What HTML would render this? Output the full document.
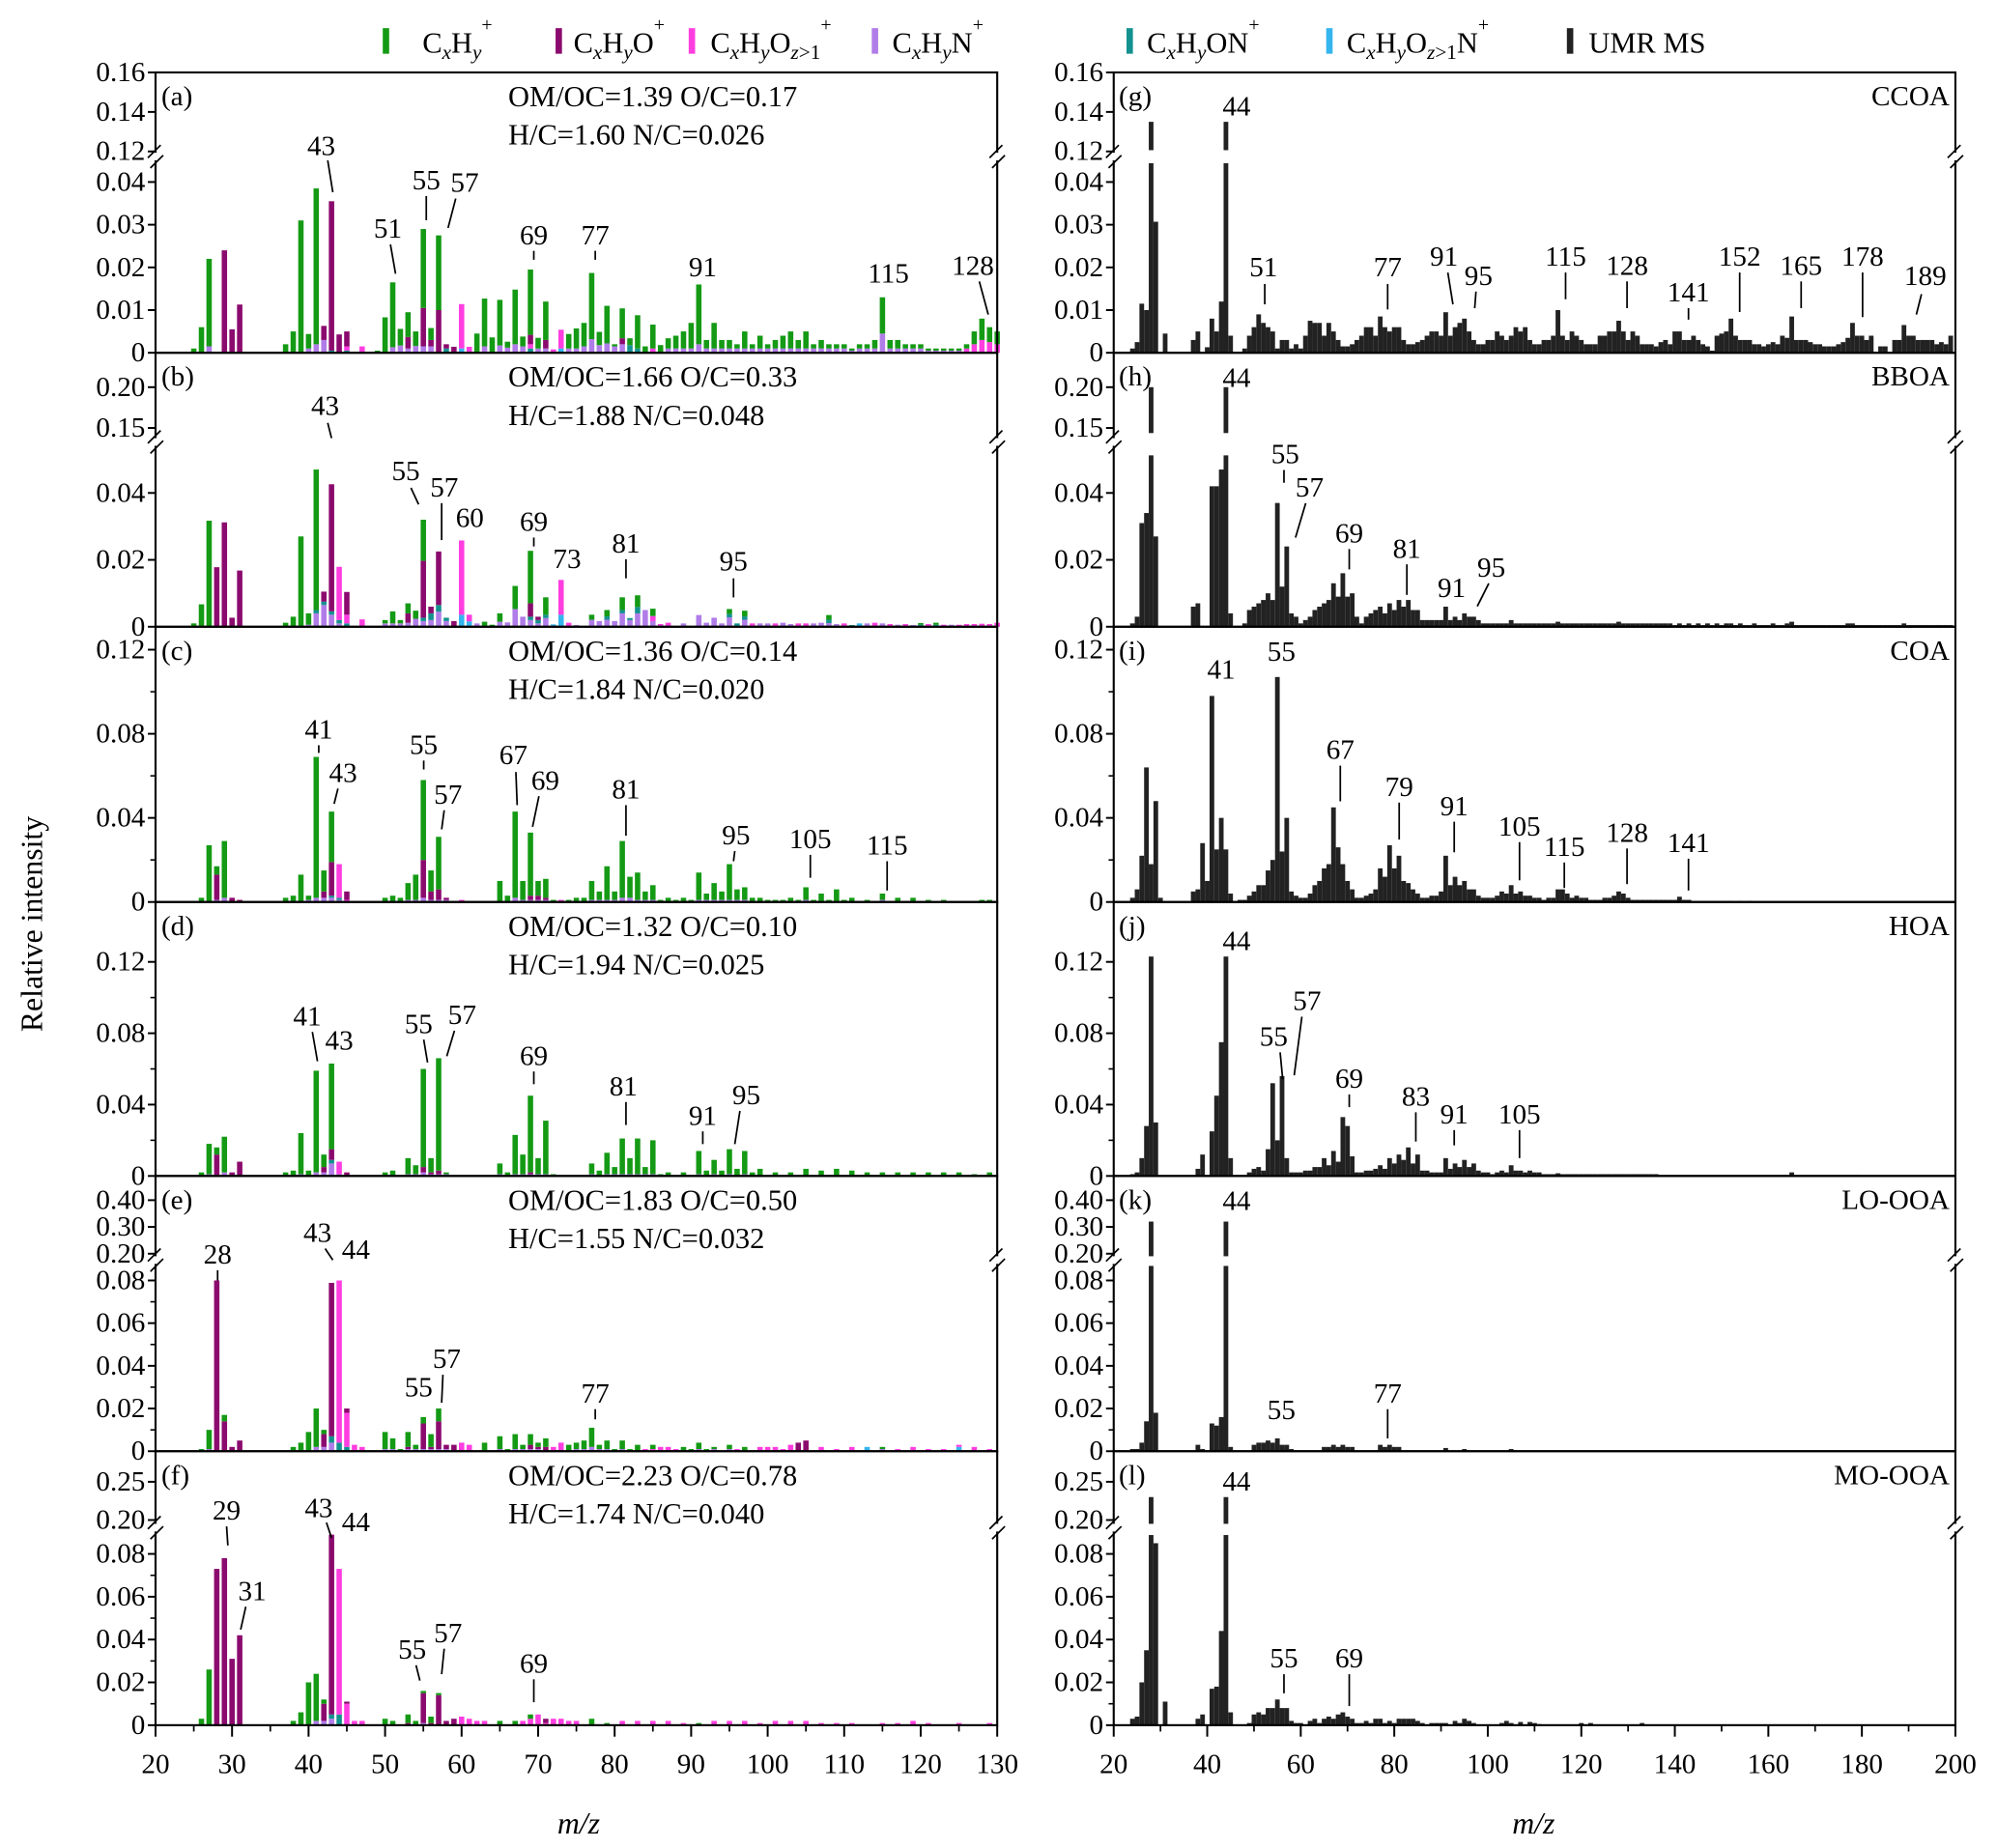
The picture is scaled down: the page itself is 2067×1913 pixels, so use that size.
<!DOCTYPE html>
<html><head><meta charset="utf-8"><title>Mass spectra</title>
<style>
html,body{margin:0;padding:0;background:#fff;}
svg{display:block;font-family:"Liberation Serif","DejaVu Serif",serif;}
</style></head>
<body>
<svg id="chart" xmlns="http://www.w3.org/2000/svg" width="2067" height="1913" viewBox="0 0 1560 1444" preserveAspectRatio="none">
<g id="legend" font-size="23">
  <g><rect x="299" y="22" width="5" height="20" fill="#149a14"/><text x="330" y="41">C<tspan font-style="italic" font-size="16" dy="5">x</tspan><tspan dy="-5">H</tspan><tspan font-style="italic" font-size="16" dy="5">y</tspan><tspan font-size="15" dy="-22">+</tspan></text></g>
  <g><rect x="434" y="22" width="5" height="20" fill="#8b0a6e"/><text x="448" y="41">C<tspan font-style="italic" font-size="16" dy="5">x</tspan><tspan dy="-5">H</tspan><tspan font-style="italic" font-size="16" dy="5">y</tspan><tspan dy="-5">O</tspan><tspan font-size="15" dy="-17">+</tspan></text></g>
  <g><rect x="538" y="22" width="5" height="20" fill="#ff3ee0"/><text x="555" y="41">C<tspan font-style="italic" font-size="16" dy="5">x</tspan><tspan dy="-5">H</tspan><tspan font-style="italic" font-size="16" dy="5">y</tspan><tspan dy="-5">O</tspan><tspan font-size="16" dy="5"><tspan font-style="italic">z</tspan>&gt;1</tspan><tspan font-size="15" dy="-22">+</tspan></text></g>
  <g><rect x="681" y="22" width="5" height="20" fill="#b07ce8"/><text x="697" y="41">C<tspan font-style="italic" font-size="16" dy="5">x</tspan><tspan dy="-5">H</tspan><tspan font-style="italic" font-size="16" dy="5">y</tspan><tspan dy="-5">N</tspan><tspan font-size="15" dy="-17">+</tspan></text></g>
  <g><rect x="880" y="22" width="5" height="20" fill="#13928f"/><text x="896" y="41">C<tspan font-style="italic" font-size="16" dy="5">x</tspan><tspan dy="-5">H</tspan><tspan font-style="italic" font-size="16" dy="5">y</tspan><tspan dy="-5">ON</tspan><tspan font-size="15" dy="-17">+</tspan></text></g>
  <g><rect x="1036" y="22" width="5" height="20" fill="#34b5ee"/><text x="1052" y="41">C<tspan font-style="italic" font-size="16" dy="5">x</tspan><tspan dy="-5">H</tspan><tspan font-style="italic" font-size="16" dy="5">y</tspan><tspan dy="-5">O</tspan><tspan font-size="16" dy="5"><tspan font-style="italic">z</tspan>&gt;1</tspan><tspan dy="-5">N</tspan><tspan font-size="15" dy="-17">+</tspan></text></g>
  <g><rect x="1224" y="22" width="5" height="20" fill="#222"/><text x="1241" y="41">UMR MS</text></g>
</g>
<text x="0" y="0" font-size="24" text-anchor="middle" transform="translate(33,722) rotate(-90)">Relative intensity</text>
<g transform="matrix(1,0,0,0.9957,0,-1.15)">
<text x="452" y="1440" font-size="24" font-style="italic" text-anchor="middle">m/z</text>
<text x="1198" y="1440" font-size="24" font-style="italic" text-anchor="middle">m/z</text>
<g id="plots"></g>
<g id="annots" font-size="22" text-anchor="middle"></g>
</g>
</svg>
<script>
// ---------- data (intensities in units of 1e-3) ----------
// left panels: [m/z, CxHy, CxHyO, CxHyOz>1, CxHyN, CxHyON, CxHyOz>1N]
const barsA = [[25,1,0,0,0,0,0],[26,6,0,0,0,0,0],[27,20.5,0,0,1.5,0,0],[29,0,24,0,0,0,0],[30,0,5.5,0,0,0,0],[31,0,11.3,0,0,0,0],[37,2,0,0,0,0,0],[38,5,0,0,0,0,0],[39,31,0,0,0,0,0],[40,3.4,0,0,1,0,0],[41,36.5,0,0,2,0,0],[42,0,3.3,0,3,0,0],[43,0,35,0,0,0.5,0],[44,0,4.3,0,0,0,0],[45,0,3.5,1,0,0.5,0],[47,0,0,1.5,0,0,0],[49,0.5,0,0,0,0,0],[50,8.3,0,0,0,0,0],[51,15.2,0,0,1.3,0,0],[52,3.9,0,0,1.7,0,0],[53,5.8,2.7,0,1,0,0],[54,3.4,0,0,1.6,0,0],[55,18.5,9,0,1.5,0,0],[56,2.8,1.5,0,1.5,0,0],[57,17.5,10,0,0,0,0],[58,0,1,0,0,1,0],[59,0,1.4,0,0,0,0],[60,0,0,10.4,0,0,1],[61,0,0,1.4,0,0,0],[62,4.5,0,0,0,0,0],[63,11.2,0,0,1.5,0,0],[64,3.6,0,0,0,0,0],[65,10.7,0,0,1.7,0,0],[66,1.4,0,0,1.2,0,0],[67,12.8,0,0,2,0,0],[68,2.3,0,0,1.5,0,0],[69,15.3,2.2,1,0,1,0],[70,2.5,0,0,1,0,0],[71,9,2,0,1,0,0],[72,0,0,0.8,0,0,0],[73,0,0,4.4,0,0,1],[74,3.4,0,0,1,0,0],[75,4.7,0,0,1,0,0],[76,5.5,0,0,1.5,0,0],[77,15.5,0,0,3.2,0,0],[78,3.1,0,0,1.8,0,0],[79,8.8,0,0,2.2,0,0],[80,0.5,0,0,1.5,0,0],[81,7,1.4,0,2,0,0],[82,1.6,0,0,0,1.8,0],[83,7.8,0,0,0,1,0],[84,1.5,0,0,0,0,0],[85,5.6,0,1,0,0,0],[86,1.8,0,0,0,0,0],[87,2.4,0,0,1,0,0],[88,3,0,0,1,0,0],[89,4,0,0,1,0,0],[90,6,0,0,1,0,0],[91,14,0,0,2,0,0],[92,2,0,0,1,0,0],[93,6,0,0,1,0,0],[94,2,0,0,1,0,0],[95,2,0,0,1,0,0],[96,1,0,0,1,0,0],[97,4,0,0,1,0,0],[98,1,0,0,1,0,0],[99,3,0,0,1,0,0],[100,1,0,0,1,0,0],[101,2,0,0,1,0,0],[102,3,0,0,1,0,0],[103,4,0,0,1,0,0],[104,2,0,0,1,0,0],[105,4,0,0,1,0,0],[106,1,0,0,1,0,0],[107,2,0,0,1,0,0],[108,1,0,0,1,0,0],[109,1,0,0,1,0,0],[110,1,0,0,1,0,0],[111,0.5,0,0,0.5,0,0],[112,1,0,0,1,0,0],[113,1,0,0,1,0,0],[114,2,0,0,1,0,0],[115,8.5,0,0,4.5,0,0],[116,2,0,0,1,0,0],[117,2,0,0,1,0,0],[118,1,0,0,1,0,0],[119,1,0,0,1,0,0],[120,1,0,0,1,0,0],[121,0.5,0,0,0.5,0,0],[122,0.5,0,0,0.5,0,0],[123,0.5,0,0,0.5,0,0],[124,0.5,0,0,0.5,0,0],[125,0.5,0,0,0.5,0,0],[126,1,0,1,0,0,0],[127,3,0,2,0,0,0],[128,5,0,3,0,0,0],[129,3.5,0,2.5,0,0,0],[130,3,0,2,0,0,0]];
const barsB = [[25,1,0,0,0,0,0],[26,6.7,0,0,0,0,0],[27,31.7,0,0,0,0,0],[28,0,17.8,0,0,0,0],[29,0,31.2,0,0,0,0],[30,0,2.7,0,0,0,0],[31,0,16.8,0,0,0,0],[37,1.2,0,0,0,0,0],[38,3,0,0,0,0,0],[39,27,0,0,0,0,0],[40,3.4,0,0,0.6,0,0],[41,42,0,0,4,1,0],[42,0,3,0,6.5,1,0],[43,0,38,0,3.6,1,0],[44,0,0,15.9,1,1,0],[45,0,6.8,2.6,0,1,0],[47,0,0,2.2,0,0,0],[50,1,0,0,1,0,0],[51,3.6,0,0,1,0,0],[52,1,0,0,1,0,0],[53,3,2.8,0,1.2,0,0],[54,2.4,0,0,2.4,0,0],[55,12.3,17,0,1.7,1,0],[56,0,2,0,2,2,0],[57,0,16,0,4.5,2,0],[58,0,0,0,1.7,1,0],[59,0,1.7,0,0,0,0],[60,0,0,22.2,0,0,3.6],[61,0,0,2,0,0,1.6],[62,0,0,0,1,0,0],[63,1.5,0,0,0,0,0],[64,0.6,0,0,0,0,0],[65,2.5,0,0,1.5,0,0],[66,0,0,0,1.3,0,0],[67,6.9,0,0,5.3,0,0],[68,0,0,0,3,0,0],[69,15.7,4,0,2,1,0],[70,0,1,0,1,1,0],[71,5.2,0,0,2.6,1,0],[72,0,0,0,0,0,0.7],[73,0,0,10.4,0,0,3.6],[74,0,0,1.2,0,0,0],[75,0,0,0,0.5,0,0],[77,1.5,0,0,2.1,0,0],[78,0,0,0,1.7,0,0],[79,1.9,0,0,2.1,1,0],[80,0,0,0,1.7,0,0],[81,3.8,0,0,4,1,0],[82,0,0,0,2,0.6,0],[83,3.5,0,0,4,1.9,0],[84,0,0,0,5,0,0],[85,2.2,0,1.5,1.7,0,0],[86,0,0,0.8,0,0,0],[87,0,0,1.2,0,0,0],[89,0,0,0,1,0,0],[91,0,0,0,3.5,0,0],[92,0,0,0,1.2,0,0],[93,0,0,0,2.7,0,0],[94,0,0,0,1,0,0],[95,1.5,0,0,2.8,1,0],[96,0,0,0,0,1,0],[97,1.7,0,0,2.1,1,0],[98,0,0,1,0,0,0],[99,0,0,0,1,0,0],[100,0,0,0,1,0,0],[101,0,0,1,0,0,0],[102,0,0,0,1.2,0,0],[103,0,0,0,0.8,0,0],[104,0,0,1,0,0,0],[105,0,0,1,0,0,0],[106,0,0,0,1,0,0],[107,0,0,0,1.2,0,0],[108,1.4,0,0,1.1,1,0],[109,0,0,0,0.8,0,0],[110,0,0,1,0,0,0],[111,0,0,0,0,0.5,0],[112,0,0,0,0,0,1],[113,0,0,0,1,0,0],[114,0,0,1.2,0,0,0],[115,0,0,0,1,0,0],[116,0,0,0.8,0,0,0],[117,0,0,0,0.6,0,0],[118,0,0,0.8,0,0,0],[119,0,0,0,0.5,0,0],[120,0.5,0,0,0,0.6,0],[121,0,0,0.8,0,0,0],[122,0.6,0,0,0,0.6,0],[123,0,0,0.6,0,0,0],[124,0,0,0,0.6,0,0],[125,0,0,0.6,0,0,0],[126,0,0,0.8,0,0,0],[127,0,0,0.8,0,0,0],[128,0,0,0.9,0,0,0],[129,0,0,0.8,0,0,0],[130,0,0,1.2,0,0,0]];
const barsC = [[26,2,0,0,0,0,0],[27,27,0,0,0,0,0],[28,4,12,0,1,0,0],[29,27,0,0,2,0,0],[30,0,2,0,0,0,0],[31,0,1,0,0,0,0],[37,2,0,0,0,0,0],[38,3,0,0,0,0,0],[39,13,0,0,0,0,0],[40,2,0,0,1,0,0],[41,67,0,0,2,0,0],[42,10,3,0,2,0,0],[43,24,16,0,2,1,0],[44,0,0,16,1,1,0],[45,0,4,1,0,0,0],[50,2,0,0,0,0,0],[51,3,0,0,0,0,0],[52,2,0,0,0,0,0],[53,8,0,0,1,0,0],[54,12,0,0,1,0,0],[55,38,18,0,2,0,0],[56,10,4,0,1,0,0],[57,25,5,0,1,0,0],[58,0,1,0,1,0,0],[60,0,0,1,0,0,0],[65,10,0,0,0,0,0],[66,3,0,0,0,0,0],[67,41,0,0,2,0,0],[68,9,0,0,1,0,0],[69,30,2,0,1,0,0],[70,7,2,0,1,0,0],[71,9,1,0,1,0,0],[72,1,0,0,0,0,0],[73,0,0,1,0,0,0],[74,1,0,0,0,0,0],[75,2,0,0,0,0,0],[76,2,0,0,0,0,0],[77,9,0,0,1,0,0],[78,4,0,0,1,0,0],[79,16,0,0,1,0,0],[80,4,0,0,1,0,0],[81,27,0,0,2,0,0],[82,10,0,0,2,0,0],[83,13,0,0,1,0,0],[84,4,0,0,1,0,0],[85,7,0,0,1,0,0],[86,1,0,0,0,0,0],[87,2,0,0,0,0,0],[88,1,0,0,0,0,0],[89,2,0,0,0,0,0],[90,1,0,0,0,0,0],[91,13,0,0,1,0,0],[92,3,0,0,1,0,0],[93,8,0,0,1,0,0],[94,4,0,0,1,0,0],[95,17,0,0,1,0,0],[96,5,0,0,1,0,0],[97,6,0,0,1,0,0],[98,2,0,0,0,0,0],[99,2,0,0,0,0,0],[100,1,0,0,0,0,0],[101,1,0,0,0,0,0],[102,1,0,0,0,0,0],[103,2,0,0,0,0,0],[104,1,0,0,0,0,0],[105,6,0,0,1,0,0],[106,1,0,0,0,0,0],[107,4,0,0,0,0,0],[108,1,0,0,0,0,0],[109,6,0,0,0,0,0],[110,1,0,0,0,0,0],[111,2,0,0,0,0,0],[113,1,0,0,0,0,0],[115,3,0,0,1,0,0],[117,2,0,0,0,0,0],[119,2,0,0,0,0,0],[121,1,0,0,0,0,0],[123,1,0,0,0,0,0],[128,1,0,0,0,0,0],[129,1,0,0,0,0,0]];
const barsD = [[26,2,0,0,0,0,0],[27,17,0,0,1,0,0],[28,4,12,0,0,0,0],[29,20,0,0,2,0,0],[30,0,2,0,0,0,0],[31,0,8,0,0,0,0],[37,2,0,0,0,0,0],[38,3,0,0,0,0,0],[39,23,0,0,1,0,0],[40,3,0,0,0,0,0],[41,57,0,0,2,0,0],[42,7,3,0,2,0,0],[43,48,6,0,7,2,0],[44,0,0,7,1,0,0],[45,0,2,0,0,0,0],[50,2,0,0,0,0,0],[51,3,0,0,0,0,0],[53,9,0,0,1,0,0],[54,5,0,0,1,0,0],[55,55,3,0,2,0,0],[56,8,1,0,1,0,0],[57,63,2,0,1,0,0],[58,1,0,0,1,0,0],[65,6,0,0,1,0,0],[66,2,0,0,0,0,0],[67,22,0,0,1,0,0],[68,11,0,0,1,0,0],[69,43,1,0,1,0,0],[70,9,0,0,1,0,0],[71,30,0,0,1,0,0],[72,1,0,0,0,0,0],[77,6,0,0,1,0,0],[78,3,0,0,0,0,0],[79,12,0,0,1,0,0],[80,4,0,0,1,0,0],[81,20,0,0,1,0,0],[82,9,0,0,1,0,0],[83,20,0,0,1,0,0],[84,4,0,0,1,0,0],[85,19,0,0,1,0,0],[86,1,0,0,0,0,0],[87,2,0,0,0,0,0],[89,2,0,0,0,0,0],[91,13,0,0,1,0,0],[92,3,0,0,0,0,0],[93,8,0,0,1,0,0],[94,3,0,0,0,0,0],[95,14,0,0,1,0,0],[96,4,0,0,0,0,0],[97,13,0,0,1,0,0],[98,2,0,0,0,0,0],[99,4,0,0,0,0,0],[101,2,0,0,0,0,0],[103,2,0,0,0,0,0],[105,4,0,0,0,0,0],[107,3,0,0,0,0,0],[109,4,0,0,0,0,0],[111,3,0,0,0,0,0],[113,2,0,0,0,0,0],[115,2,0,0,0,0,0],[117,2,0,0,0,0,0],[119,2,0,0,0,0,0],[121,2,0,0,0,0,0],[123,2,0,0,0,0,0],[125,2,0,0,0,0,0],[127,1,0,0,0,0,0],[129,2,0,0,0,0,0]];
const barsE = [[26,1,0,0,0,0,0],[27,9,0,0,1,0,0],[28,0,80,0,0,0,0],[29,3,14,0,0,0,0],[30,0,2,0,0,0,0],[31,0,5,0,0,0,0],[38,2,0,0,0,0,0],[39,4,0,0,0,0,0],[40,9,0,0,0,0,0],[41,18,0,0,2,0,0],[42,2,6,0,2,0,0],[43,0,84,0,4,3,0],[44,0,0,76,0,4,0],[45,0,2,16,0,2,0],[46,0,0,3,0,0,0],[47,0,0,2,0,0,0],[50,8,0,0,1,0,0],[51,5,0,0,1,0,0],[52,1,0,0,0,0,0],[53,7,1,0,1,0,0],[54,2,0,0,1,0,0],[55,3,12,0,1,0,0],[56,6,1,0,1,0,0],[57,6,13,0,1,0,0],[58,0,2,0,1,0,0],[59,0,3,0,0,0,0],[60,0,0,4,0,0,0],[61,0,0,3,0,0,0],[63,4,0,0,0,0,0],[65,6,0,0,1,0,0],[66,1,0,0,0,0,0],[67,7,0,0,1,0,0],[68,2,0,0,1,0,0],[69,5,2,0,1,0,0],[70,2,1,0,1,0,0],[71,4,2,0,0,0,0],[72,0,0,2,0,0,0],[73,0,0,4,0,0,0],[74,3,0,0,0,0,0],[75,3,0,0,1,0,0],[76,4,0,0,1,0,0],[77,9,0,0,2,0,0],[78,2,0,0,1,0,0],[79,4,0,0,1,0,0],[80,1,0,0,0,0,0],[81,4,0,0,1,0,0],[82,1,0,0,0,0,0],[83,3,0,0,0,0,0],[84,0,0,1,0,0,0],[85,2,0,1,0,0,0],[86,0,0,2,0,0,0],[87,0,0,2,0,0,0],[88,0,0,1,0,0,0],[89,2,0,0,0,0,0],[90,1,0,0,0,0,0],[91,3,0,0,1,0,0],[92,1,0,0,0,0,0],[93,1,0,0,1,0,0],[95,2,0,0,1,0,0],[96,0,0,1,0,0,0],[97,2,0,0,0,0,0],[99,0,0,2,0,0,0],[100,0,0,2,0,0,0],[101,0,0,2,0,0,0],[102,0,0,1,0,0,0],[103,0,0,3,0,0,0],[104,0,4,0,0,0,0],[105,0,5,0,0,0,0],[107,0,0,2,0,0,0],[109,0,0,1,0,0,0],[111,0,0,2,0,0,0],[113,0,0,0,0,0,2],[115,1,0,0,1,0,0],[117,0,0,1,0,0,0],[119,0,0,2,0,0,0],[121,0,0,1,0,0,0],[123,0,0,1,0,0,0],[125,0,0,1,0,0,2],[127,0,0,2,0,0,0],[129,0,0,1,0,0,0]];
const barsF = [[26,3,0,0,0,0,0],[27,26,0,0,0,0,0],[28,0,73,0,0,0,0],[29,0,78,0,0,0,0],[30,0,31,0,0,0,0],[31,0,42,0,0,0,0],[38,2,0,0,0,0,0],[39,6,0,0,0,0,0],[40,20,0,0,0,0,0],[41,22,0,0,2,0,0],[42,2,8,0,2,0,0],[43,0,84,0,3,2,0],[44,0,0,68,0,5,0],[45,0,1,10,0,0,0],[46,0,0,2,0,0,0],[47,0,0,2,0,0,0],[50,3,0,0,0,0,0],[51,2,0,0,0,0,0],[53,4,1,0,0,0,0],[54,2,0,0,0,0,0],[55,1,14,0,1,0,0],[56,3,1,0,0,0,0],[57,1,14,0,0,0,0],[58,0,2,0,0,0,0],[59,0,3,0,0,0,0],[60,0,0,4,0,0,0],[61,0,0,3,0,0,0],[62,0,0,2,0,0,0],[63,0,0,2,0,0,0],[65,2,0,0,0,0,0],[67,2,0,0,0,0,0],[68,0,0,2,0,0,0],[69,2,0,3,0,0,0],[70,0,0,5,0,0,0],[71,0,2,1,0,0,0],[72,0,0,3,0,0,0],[73,0,0,3,0,0,0],[74,0,0,2,0,0,0],[75,0,0,2,0,0,0],[77,3,0,0,0,0,0],[79,1,0,0,0,0,0],[81,0,0,2,0,0,0],[83,0,0,2,0,0,0],[85,0,0,2,0,0,0],[87,0,0,2,0,0,0],[89,0,0,1,0,0,0],[91,1,0,0,0,0,0],[93,0,0,2,0,0,0],[95,0,0,2,0,0,0],[97,0,0,2,0,0,0],[99,0,0,1,0,0,0],[101,0,0,2,0,0,0],[103,0,0,2,0,0,0],[105,0,0,2,0,0,0],[107,0,0,1,0,0,0],[109,0,0,1,0,0,0],[111,0,0,1,0,0,0],[115,0,0,1,0,0,0],[117,0,0,1,0,0,0],[119,0,0,2,0,0,0],[121,0,0,1,0,0,0],[125,0,0,1,0,0,0],[129,0,0,1,0,0,0]];
// right panels: UMR intensities for consecutive m/z starting at 20
const umrStart = 20;
const umrG = [0,0,0,0,1,2.5,11.5,10,135,30.7, 0,4.5,0,0,0,0,0,3,5,0, 1.3,8,5,12,135,4,0,0,1,4, 6,9,7,6,5,1,3,3,1,2, 1,4,7.5,7,7,4,7,5,3,1.5, 1.5,2,3,4,6,6,4,8.5,6,5, 6,6,3,2,2,2.5,3,4,5,5, 4,9.5,4,6,7,8,5,3,2,2, 3,3,5,4,3,4,6,5,6,3, 2,2,3,3,4,10,4,3,5,4, 3,2,2,2,4,4,5,5,7.5,5, 3,5,4,2,2,2,1.5,2.5,3,2, 5,5,3,3,4,3,2,1.5,0.5,4, 4.5,5,8,4,3,3,3,2,2,1.5, 2,2.5,2,4,3.5,8.5,3,3,3,2.5, 2,2,1.5,1.5,1.5,2,2.5,3.5,7,4, 4,3,4,0,1.5,1.5,0,3,3,6.5, 4,4,3,3,3,3,2,2.5,2,4];
const umrH = [0,0,0,0,1,3,31,34,200,27, 0,0,0,0,0,0,0,6,7,0, 0,42,42,47,200,4,0,0,1,5, 6,7,8,10,8,37,12,24,4,3, 1,2,3,5,6,7,8,13,9,16, 9,10,3,1,3,4,5,6,4,7, 5,8,6,8,5,5,2,2,2,2, 2,6,2,3,2,4,3,3,2,1, 1,1,1,1,1,2,1,1,1,1, 1,1,1,1,1,1.5,1,1,1,1, 1,1,1,1,1,1,1,1,1.5,1, 1,1,1,1,1,1,1,1,1,1, 0.5,1,0.5,1,0.5,1,0.5,1,0.5,1, 0.5,1,1,0.5,1,0.5,0.5,1,0.5,0.5, 0.5,1,0.5,0.5,1,1.5,0.5,0.5,0.5,0.5, 0.5,0.5,0.5,0.5,0.5,0.5,0.5,1,1,0.5, 0.5,0.5,0.5,0.5,0.5,0.5,0.5,0.5,0.5,1, 0.5,0.5,0.5,0.5,0.5,0.5,0.5,0.5,0.5,0.5];
const umrI = [0,0,0,0,2,6,22,64,18,48, 2,0,0,0,0,0,0,5,6,28, 10,98,25,40,25,4,0,1,1,3, 5,8,8,15,20,107,24,40,5,3, 2,2,4,8,10,16,18,45,26,18, 10,6,2,2,3,4,6,16,12,27, 16,22,10,9,6,4,2,2,3,3, 5,22,8,12,8,10,6,6,3,2, 2,2,3,5,4,8,4,5,3,3, 2,2,1,2,2,6,6,4,2,3, 2,2,1,1,1,2,2,3,5,4, 2,1,1,1,1,1,1,1,1,1, 1,2.5,1,1,0.5,0.5,0.5,0.5,0.5,0.5, 0.5,0.5,0.5,0,0.5,0,0.5,0,0,0];
const umrJ = [0,0,0,0,1,2,10,28,123,30, 0,0,0,0,0,0,0,0,4,12, 0,25,45,75,123,10,0,0,0,2, 4,5,3,15,52,20,56,10,2,2, 2,3,3,5,5,10,6,14,8,33, 28,11,2,2,3,3,4,6,4,10, 7,12,9,16,7,12,3,3,2,2, 2,10,4,7,5,9,5,7,3,2, 2,1,2,3,2,6,3,3,2,3, 2,2,1,1,1,1.5,1,1,1,1, 1,1,1,1,1,1,1,1,1,1, 1,1,1,1,1,1,1,0.5,0.5,0.5, 0.5,0.5,0.5,0.5,0.5,0.5,0.5,0.5,0.5,0.5, 0.5,0.5,0.5,0.5,0.5,0.5,0.5,0.5,0.5,0.5, 0.5,0.5,0.5,0.5,0.5,2,0.5,0.5,0.5,0.5, 0.5,0.5,0.5,0.5,0.5,0.5,0.5,0.5,0.5,0.5];
const umrK = [0,0,0,0,1,1,4,14,320,18, 0,0,0,0,0,0,0,0,3,1, 0,13,12,16,320,2,0,0,0,0, 3,4,4,5,4,6,3,3,1,0, 0,0,0,0,0,2,2,3,2,3, 2,2,0,0,0,0,0,3,2,3, 2,2,0,0,0,0,0,0,0,0, 0,1.5,0,0,0,1,0,0,0,0, 0,0,0,0,0,1,0,0,0,0];
const umrL = [0,0,0,0,3,4,20,35,230,85, 0,11,0,0,0,0,0,0,3,5, 0,17,18,44,230,6,0,0,0,1, 5,6,5,8,8,12,8,8,2,1, 1,0,2,3,1,3,4,3,5,6, 4,3,1,1,2,1,3,3,1,2, 1,3,3,3,3,2,1,0,1,1, 1,1,0,2,1,3,2,1,0,0, 0,0,0,1,2,1,0,1.5,0,1.5, 1,0.5,0,0,0,0,0,0,0,0, 1,0,1,0,0,0,0,0,0,0, 0,0,0,1,0,0,0,0,0,0];
// stats text and labels
const leftStats = [["OM/OC=1.39 O/C=0.17","H/C=1.60 N/C=0.026"],["OM/OC=1.66 O/C=0.33","H/C=1.88 N/C=0.048"],["OM/OC=1.36 O/C=0.14","H/C=1.84 N/C=0.020"],["OM/OC=1.32 O/C=0.10","H/C=1.94 N/C=0.025"],["OM/OC=1.83 O/C=0.50","H/C=1.55 N/C=0.032"],["OM/OC=2.23 O/C=0.78","H/C=1.74 N/C=0.040"]];
const factorNames = ["CCOA","BBOA","COA","HOA","LO-OOA","MO-OOA"];
const leftLetters = ["(a)","(b)","(c)","(d)","(e)","(f)"];
const rightLetters = ["(g)","(h)","(i)","(j)","(k)","(l)"];
const lowTicks = [[0,10,20,30,40],[0,20,40],[0,40,80,120],[0,40,80,120],[0,20,40,60,80],[0,20,40,60,80]];
const upTicks = [[120,140,160],[150,200],[],[],[200,300,400],[200,250]];
const xTicksLeft = [20,30,40,50,60,70,80,90,100,110,120,130];
const xTicksRight = [20,40,60,80,100,120,140,160,180,200];
const colors = ["#149a14","#8b0a6e","#ff3ee0","#b07ce8","#13928f","#34b5ee"];

// ---------- layout ----------
const NS="http://www.w3.org/2000/svg";
const plots=document.getElementById('plots');
const annots=document.getElementById('annots');
const LX0=121.5,LX1=779,RX0=870,RX1=1527.5;
const tops=[58,278,493,709,924,1140];
const cfgs=[
 {zero:278,k:3.35,lowMax:45,breakY:124,up:{v0:120,y0:120,k:1.55,start:119}},
 {zero:493,k:2.625,lowMax:52,breakY:348,up:{v0:150,y0:337,k:0.64,start:341}},
 {zero:709,k:1.65},
 {zero:924,k:1.4},
 {zero:1140,k:1.675,lowMax:88,breakY:990,up:{v0:200,y0:985,k:0.21,start:987}},
 {zero:1355,k:1.68,lowMax:90,breakY:1200,up:{v0:200,y0:1194,k:0.6,start:1197}}
];
function yv(c,v){ if(!c.up||v<=c.lowMax) return c.zero-v*c.k; return c.up.y0-(v-c.up.v0)*c.up.k; }
function xl(m){return LX0+(m-20)*(LX1-LX0)/110;}
function xr(m){return RX0+(m-20)*(RX1-RX0)/180;}
function el(tag,attrs,parent){const e=document.createElementNS(NS,tag);for(const k in attrs)e.setAttribute(k,attrs[k]);(parent||plots).appendChild(e);return e;}
function txt(s,x,y,size,anchor,parent){const t=el('text',{x:x,y:y,'font-size':size,'text-anchor':anchor||'start','dominant-baseline':'central'},parent);t.textContent=s;return t;}

const leftData=[barsA,barsB,barsC,barsD,barsE,barsF];
const rightData=[umrG,umrH,umrI,umrJ,umrK,umrL];

for(let p=0;p<6;p++){
  const c=cfgs[p], top=tops[p];
  const gL=el('g',{});
  
  
  leftData[p].forEach(b=>{
    const m=b[0]; const order=[4,5,6,3,2,1]; let cum=0;
    order.forEach(ci=>{
      const v=b[ci]; if(!v) return;
      const y1=yv(c,cum), y2=yv(c,cum+v);
      const r=el('rect',{x:xl(m)-2.1,y:y2,width:4.2,height:Math.max(0.3,y1-y2),fill:colors[ci-1]},gL);
      
      
      cum+=v;
    });
  });
  const gR=el('g',{});
  
  
  const bw=(RX1-RX0)/180;
  rightData[p].forEach((v,i)=>{
    if(!v) return; const m=umrStart+i; const x=xr(m)-bw/2, w=bw;
    if(c.up && v>c.lowMax){
      const r1=el('rect',{x:x,y:yv(c,c.lowMax)+2,width:w,height:c.zero-yv(c,c.lowMax)-2,fill:'#222'},gR);
      
      
      const yt=yv(c,v);
      const r2=el('rect',{x:x,y:yt,width:w,height:Math.max(1,c.up.start-yt),fill:'#222'},gR);
      
      
    } else {
      const r=el('rect',{x:x,y:yv(c,v),width:w,height:c.zero-yv(c,v),fill:'#222'},gR);
      
      
    }
  });
  [[LX0,LX1,'left'],[RX0,RX1,'right']].forEach(([x0,x1,side])=>{
    const f=el('rect',{x:x0,y:top,width:x1-x0,height:c.zero-top,fill:'none',stroke:'#000','stroke-width':1.6});
    
    
    const ticks=lowTicks[p].map(v=>[v,yv(c,v)]).concat(upTicks[p].map(v=>[v,yv(c,v)]));
    const minorStep=lowTicks[p][1]/2;
    ticks.forEach(([v,y])=>{
      el('line',{x1:x0-6,x2:x0,y1:y,y2:y,stroke:'#000','stroke-width':1.5});
      const lab=(v/1000).toFixed(2);
      const t=txt(v===0?'0':lab,x0-8,y,22,'end');
      
      
    });
    if(p>=2){ for(let v=minorStep;v<lowTicks[p][lowTicks[p].length-1];v+=lowTicks[p][1]) el('line',{x1:x0-4,x2:x0,y1:yv(c,v),y2:yv(c,v),stroke:'#000','stroke-width':1.2}); }
    if(c.up){
      [x0,x1].forEach(xx=>{
        el('rect',{x:xx-3,y:c.breakY-3,width:6,height:6,fill:'#fff'});
        el('line',{x1:xx-6,y1:c.breakY+1,x2:xx+4,y2:c.breakY-9,stroke:'#000','stroke-width':1.3});
        el('line',{x1:xx-4,y1:c.breakY+9,x2:xx+6,y2:c.breakY-1,stroke:'#000','stroke-width':1.3});
      });
    }
  });
  const t1=txt(leftLetters[p],126,top+19,22);  
  const t2=txt(rightLetters[p],874,top+19,22);  
  const s1=txt(leftStats[p][0],397,top+19,23);  
  const s2=txt(leftStats[p][1],397,top+49,23);  
  const fn=txt(factorNames[p],1523,top+19,22,'end');  
}
const XB=1355;
xTicksLeft.forEach(m=>{ el('line',{x1:xl(m),x2:xl(m),y1:XB,y2:XB+9,stroke:'#000','stroke-width':1.5}); const t=txt(String(m),xl(m),XB+31,22,'middle');   if(m<130) el('line',{x1:xl(m+5),x2:xl(m+5),y1:XB,y2:XB+5,stroke:'#000','stroke-width':1.3}); });
xTicksRight.forEach(m=>{ el('line',{x1:xr(m),x2:xr(m),y1:XB,y2:XB+9,stroke:'#000','stroke-width':1.5}); const t=txt(String(m),xr(m),XB+31,22,'middle');   if(m<200) el('line',{x1:xr(m+10),x2:xr(m+10),y1:XB,y2:XB+5,stroke:'#000','stroke-width':1.3}); });

// annotations: [label, textX, textY, x1,y1,x2,y2]
const ann=[
 ["43",251,116,256,127,260,152],["51",303,181,305,193,309,216],["55",333,143,333,155,333,174],["57",363,145,356,157,350,180],["69",417,186,417,198,417,205],["77",465,186,465,198,465,205],["91",549,211,0,0,0,0],["115",694,216,0,0,0,0],["128",760,210,765,222,772,248],
 ["43",254,320,256,333,259,345],["55",317,371,321,384,327,397],["57",347,384,345,396,345,425],["60",367,408,0,0,0,0],["69",417,411,417,423,417,430],["73",443,440,0,0,0,0],["81",489,428,489,440,489,455],["95",573,442,573,455,573,470],
 ["41",249,574,249,586,249,592],["43",268,608,264,620,261,632],["55",331,586,331,598,331,605],["57",350,625,347,637,345,652],["67",401,594,403,607,404,633],["69",426,614,421,626,416,650],["81",489,621,489,633,489,657],["95",575,657,574,669,573,677],["105",633,660,633,672,633,690],["115",693,665,693,677,693,700],
 ["41",240,799,244,811,248,834],["43",265,818,0,0,0,0],["55",327,805,331,817,334,835],["57",361,798,355,810,349,830],["69",417,830,417,842,417,852],["81",487,854,489,866,489,884],["91",549,877,549,889,549,899],["95",583,861,578,873,574,899],
 ["28",170,986,170,998,170,1006],["43",248,969,254,981,260,990],["44",278,982,0,0,0,0],["55",327,1090,0,0,0,0],["57",349,1068,346,1080,345,1102],["77",465,1095,465,1107,465,1115],
 ["29",177,1187,177,1199,178,1214],["43",249,1185,255,1196,259,1208],["44",278,1196,0,0,0,0],["31",197,1250,192,1262,188,1280],["55",322,1296,325,1308,328,1320],["57",350,1283,347,1295,345,1315],["69",417,1307,417,1319,417,1337],
 ["44",966,85,0,0,0,0],["51",987,211,988,224,988,240],["77",1084,211,1084,224,1084,244],["91",1128,203,1131,215,1135,240],["95",1155,218,1153,230,1152,243],["115",1223,203,1223,215,1223,236],["128",1271,210,1271,222,1271,243],["141",1319,231,1319,243,1319,252],["152",1359,203,1359,215,1359,246],["165",1407,210,1407,222,1407,243],["178",1455,203,1455,215,1455,250],["189",1504,218,1501,232,1497,248],
 ["44",966,298,0,0,0,0],["55",1004,358,1003,370,1003,380],["57",1023,384,1020,396,1012,423],["69",1054,420,1054,432,1054,448],["81",1099,432,1099,444,1099,468],["91",1134,463,0,0,0,0],["95",1165,447,1163,459,1154,477],
 ["41",954,527,0,0,0,0],["55",1001,513,0,0,0,0],["67",1047,590,1047,602,1047,630],["79",1093,619,1093,631,1093,660],["91",1136,634,1136,646,1136,670],["105",1187,650,1187,662,1187,692],["115",1222,666,1222,678,1222,698],["128",1271,655,1271,667,1271,695],["141",1319,663,1319,675,1319,700],
 ["44",966,740,0,0,0,0],["55",995,815,1000,827,1002,848],["57",1021,787,1017,799,1011,845],["69",1054,848,1054,860,1054,870],["83",1106,862,1106,874,1106,897],["91",1136,876,1136,888,1136,900],["105",1187,876,1187,888,1187,910],
 ["44",966,944,0,0,0,0],["55",1001,1108,0,0,0,0],["77",1084,1095,1084,1107,1084,1130],
 ["44",966,1164,0,0,0,0],["55",1003,1303,1003,1315,1003,1330],["69",1054,1303,1054,1315,1054,1340]
];
ann.forEach(a=>{
  const t=txt(a[0],a[1],a[2],22,'middle',annots);
  
  
  if(a[3]) el('line',{x1:a[3],y1:a[4],x2:a[5],y2:a[6],stroke:'#000','stroke-width':1.3},annots);
});
</script>
</body></html>
